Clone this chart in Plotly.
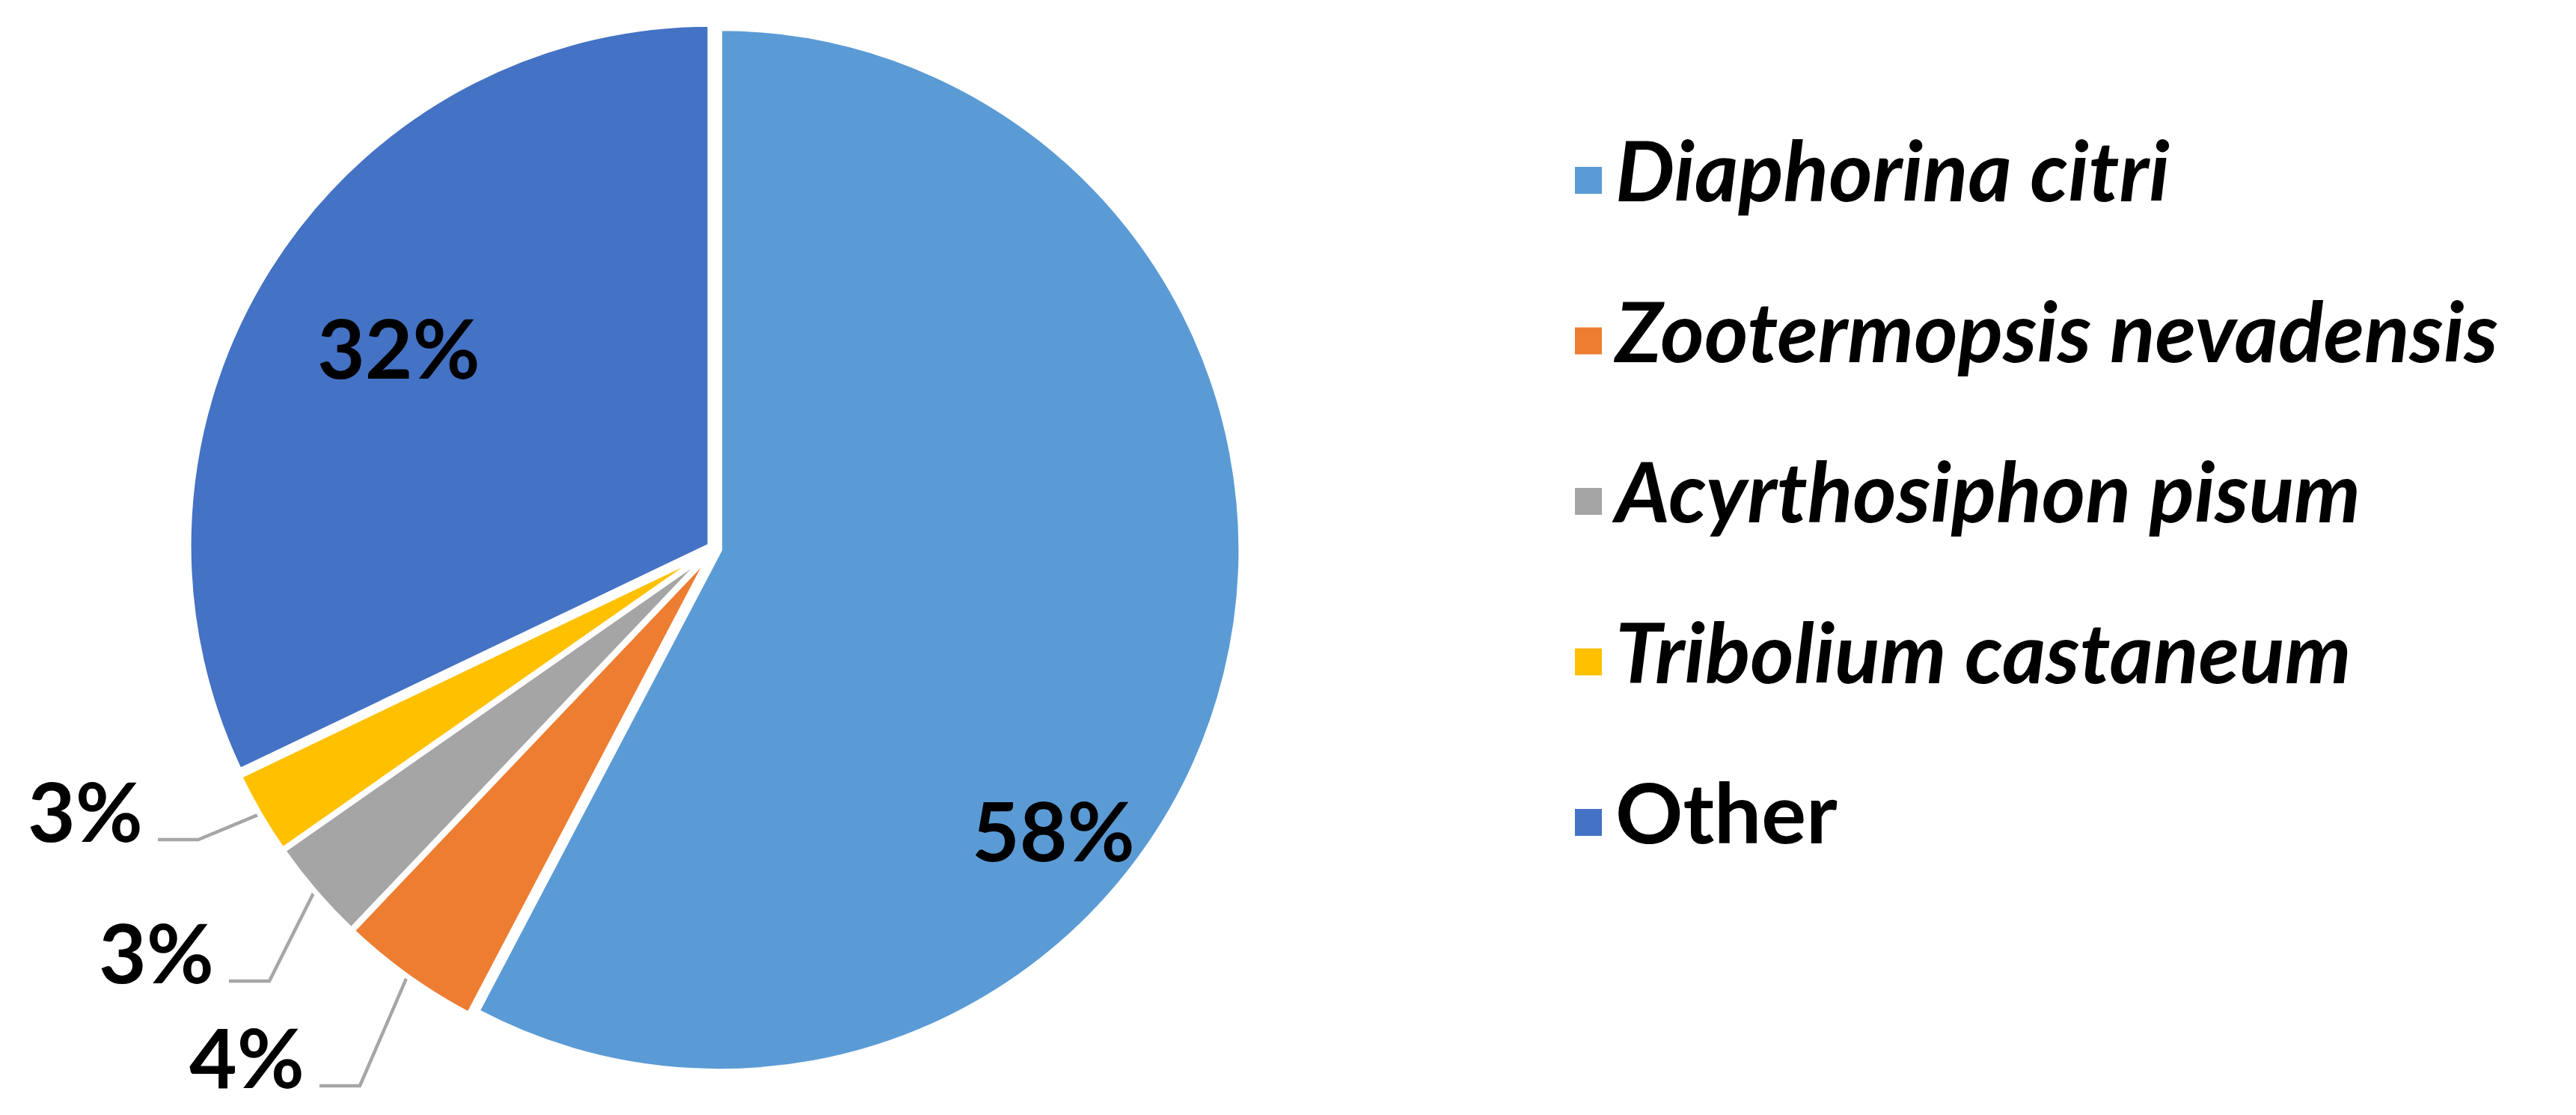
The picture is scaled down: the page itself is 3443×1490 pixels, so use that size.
import math
import plotly.graph_objects as go

# data
species = ["Diaphorina citri", "Zootermopsis nevadensis", "Acyrthosiphon pisum",
           "Tribolium castaneum", "Other"]
share = [57.7, 4.4, 3.2, 2.6, 32.1]
italic = [True, True, True, True, False]
colors = ["#5B9BD5", "#ED7D31", "#A5A5A5", "#FFC000", "#4472C4"]

W, H = 3443, 1490
CX, CY, R = 947, 725, 697
PULL = 0.01
FONT = "Lato"

# label placement (pixels, y down)
inside_pos = {0: (1400, 1100), 4: (525, 455)}
elbow_pos = {1: (473, 1443), 2: (352, 1303), 3: (257, 1114)}
ELBOW_LEN = 54

total = sum(share)
pct = [f"{round(v / total * 100)}%" for v in share]

box = 2 * R * (1 + PULL)
fig = go.Figure()
fig.add_trace(go.Pie(
    labels=species, values=share, sort=False, direction="clockwise", rotation=0,
    marker=dict(colors=colors, line=dict(color="white", width=7)),
    pull=[PULL] * len(share), textinfo="none", hoverinfo="label+percent",
    domain=dict(x=[CX / W - 0.21, CX / W + 0.21],
                y=[1 - (CY + box / 2) / H, 1 - (CY - box / 2) / H]),
    showlegend=False,
))

# leader lines for the small slices
cum = 0
for i, v in enumerate(share):
    mid = math.radians((cum + v / 2) / total * 360)
    cum += v
    if i not in elbow_pos:
        continue
    ex, ey = elbow_pos[i]
    sx = CX + (R + 10) * math.sin(mid)
    sy = CY - (R + 10) * math.cos(mid)
    fig.add_trace(go.Scatter(
        x=[sx, ex, ex - ELBOW_LEN], y=[sy, ey, ey], mode="lines",
        line=dict(color="#A6A6A6", width=4.5), hoverinfo="skip", showlegend=False,
    ))

annotations = []
for i, (x, y) in inside_pos.items():
    annotations.append(dict(x=x, y=y, text=pct[i], showarrow=False,
                            xanchor="center", yanchor="middle"))
for i, (ex, ey) in elbow_pos.items():
    annotations.append(dict(x=ex - ELBOW_LEN - 18, y=ey - 40, text=pct[i],
                            showarrow=False, xanchor="right", yanchor="middle"))
for a in annotations:
    a.update(xref="x", yref="y", font=dict(family=FONT, size=110, color="black",
                                           weight="bold"))

# legend, drawn as markers + text
LEG_X, LEG_Y0, LEG_DY = 2115, 233, 214.5
leg_y = [LEG_Y0 + k * LEG_DY for k in range(len(species))]
leg_text = [f"<i>{s}</i>" if it else s for s, it in zip(species, italic)]
fig.add_trace(go.Scatter(
    x=[LEG_X] * len(species), y=leg_y, mode="markers",
    marker=dict(symbol="square", size=36, color=colors, line=dict(width=0)),
    hoverinfo="skip", showlegend=False,
))
fig.add_trace(go.Scatter(
    x=[LEG_X + 36] * len(species), y=leg_y, mode="text", text=leg_text,
    textposition="middle right",
    textfont=dict(family=FONT, size=112, color="black", weight="bold"),
    hoverinfo="skip", showlegend=False,
))

fig.update_layout(
    width=W, height=H, margin=dict(l=0, r=0, t=0, b=0),
    paper_bgcolor="white", plot_bgcolor="rgba(0,0,0,0)",
    xaxis=dict(domain=[0, 1], range=[0, W], visible=False, fixedrange=True),
    yaxis=dict(domain=[0, 1], range=[H, 0], visible=False, fixedrange=True),
    annotations=annotations, showlegend=False,
)

fig.write_html("out.html")
